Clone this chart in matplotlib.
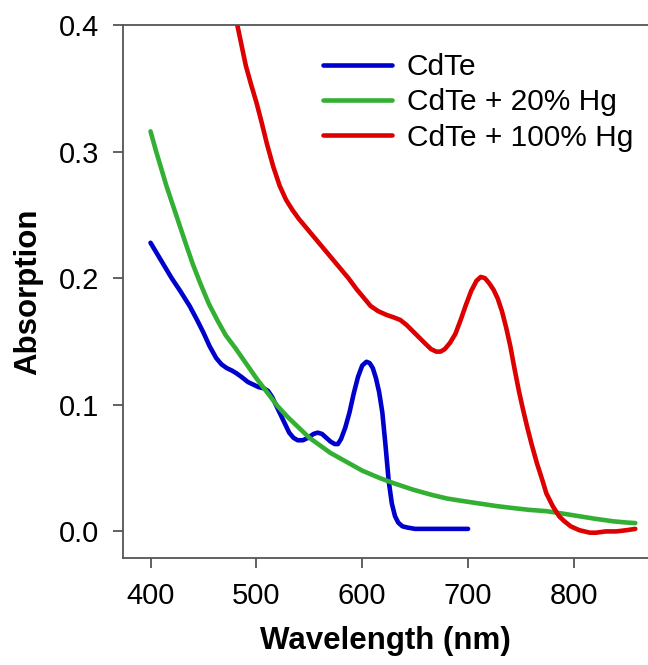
import matplotlib
matplotlib.use('Agg')
import matplotlib.pyplot as plt

plt.rcParams['font.family'] = ['Liberation Sans', 'DejaVu Sans']

# CdTe
wl_cdte = [400, 405, 410, 415, 420, 428, 437, 444, 450, 456, 462, 467, 472, 477,
           481, 486, 492, 497, 502, 507, 511, 515, 519, 523, 527, 531, 535, 539,
           544, 549, 554, 558, 562, 566, 570, 574, 577, 580, 584, 588, 592, 596,
           600, 604, 607, 610, 613, 616, 619, 622, 625, 628, 631, 634, 638, 643,
           650, 670, 685, 700]
abs_cdte = [0.228, 0.221, 0.214, 0.207, 0.200, 0.190, 0.178, 0.167, 0.157, 0.146,
            0.137, 0.132, 0.129, 0.127, 0.125, 0.122, 0.118, 0.116, 0.114, 0.113,
            0.111, 0.106, 0.099, 0.092, 0.085, 0.078, 0.074, 0.072, 0.072, 0.074,
            0.077, 0.078, 0.077, 0.074, 0.071, 0.069, 0.069, 0.073, 0.082, 0.094,
            0.109, 0.122, 0.131, 0.134, 0.133, 0.129, 0.121, 0.110, 0.094, 0.068,
            0.040, 0.022, 0.012, 0.007, 0.004, 0.003, 0.002, 0.002, 0.002, 0.002]

# CdTe + 20% Hg
wl_hg20 = [400, 405, 410, 415, 421, 427, 433, 440, 447, 455, 463, 471, 480, 490,
           500, 510, 520, 530, 540, 550, 560, 570, 585, 600, 617, 630, 648, 665,
           680, 695, 711, 727, 742, 758, 774, 790, 805, 820, 837, 850, 858]
abs_hg20 = [0.316, 0.301, 0.287, 0.273, 0.258, 0.243, 0.228, 0.211, 0.196, 0.180,
            0.167, 0.155, 0.145, 0.133, 0.121, 0.110, 0.099, 0.090, 0.082, 0.074,
            0.068, 0.062, 0.055, 0.048, 0.042, 0.038, 0.033, 0.029, 0.026, 0.024,
            0.022, 0.020, 0.0185, 0.017, 0.016, 0.014, 0.012, 0.010, 0.008, 0.007,
            0.0066]

# CdTe + 100% Hg
wl_hg100 = [482, 486, 490, 495, 500, 505, 510, 516, 522, 528, 534, 540, 547, 555,
            563, 571, 579, 587, 595, 602, 608, 615, 623, 630, 636, 642, 648, 654,
            660, 665, 670, 674, 678, 683, 688, 693, 698, 703, 708, 712, 716, 720,
            724, 728, 732, 736, 740, 744, 748, 752, 756, 760, 765, 770, 774, 780,
            786, 791, 797, 805, 815, 821, 830, 840, 850, 858]
abs_hg100 = [0.400, 0.384, 0.368, 0.353, 0.339, 0.323, 0.306, 0.288, 0.273, 0.262,
             0.254, 0.247, 0.240, 0.232, 0.224, 0.216, 0.208, 0.200, 0.191, 0.184,
             0.178, 0.174, 0.171, 0.169, 0.167, 0.163, 0.158, 0.153, 0.148, 0.144,
             0.142, 0.142, 0.144, 0.149, 0.156, 0.167, 0.179, 0.190, 0.198, 0.201,
             0.200, 0.196, 0.191, 0.184, 0.174, 0.161, 0.146, 0.128, 0.111, 0.096,
             0.082, 0.069, 0.054, 0.041, 0.030, 0.020, 0.012, 0.008, 0.004, 0.001,
             -0.001, -0.001, 0.000, 0.000, 0.001, 0.002]

labels = ['CdTe', 'CdTe + 20% Hg', 'CdTe + 100% Hg']
colors = ['#0000cc', '#33b033', '#dd0000']

fig = plt.figure(figsize=(6.48, 6.65), dpi=100)
ax = fig.add_axes([123 / 648, 107 / 665, 1 - 123 / 648, 533 / 665])

ax.plot(wl_cdte, abs_cdte, color=colors[0], lw=3.3, label=labels[0],
        solid_capstyle='round', solid_joinstyle='round')
ax.plot(wl_hg20, abs_hg20, color=colors[1], lw=3.3, label=labels[1],
        solid_capstyle='round', solid_joinstyle='round')
ax.plot(wl_hg100, abs_hg100, color=colors[2], lw=3.3, label=labels[2],
        solid_capstyle='round', solid_joinstyle='round')

ax.set_xlim(374, 870)
ax.set_ylim(-0.021, 0.4)
ax.set_xticks([400, 500, 600, 700, 800])
ax.set_yticks([0.0, 0.1, 0.2, 0.3, 0.4])
ax.set_yticklabels(['0.0', '0.1', '0.2', '0.3', '0.4'])

for s in ['left', 'bottom', 'top']:
    ax.spines[s].set_color('#555555')
    ax.spines[s].set_linewidth(1.3)
ax.spines['right'].set_visible(False)
ax.tick_params(direction='out', length=7, width=1.3, color='#555555',
               labelsize=21, pad=10)

ax.set_xlabel('Wavelength (nm)', fontsize=22.5, fontweight='bold', labelpad=12)
ax.set_ylabel('Absorption', fontsize=22.5, fontweight='bold')
ax.yaxis.set_label_coords(-0.152, 0.5)

ax.legend(loc='upper left', bbox_to_anchor=(323 / 648, 1 - 53 / 665),
          bbox_transform=fig.transFigure, frameon=False, fontsize=21.5,
          handlelength=2.3, handletextpad=0.5, labelspacing=0.25,
          borderaxespad=0, borderpad=0)

fig.savefig('out.png', dpi=100)
